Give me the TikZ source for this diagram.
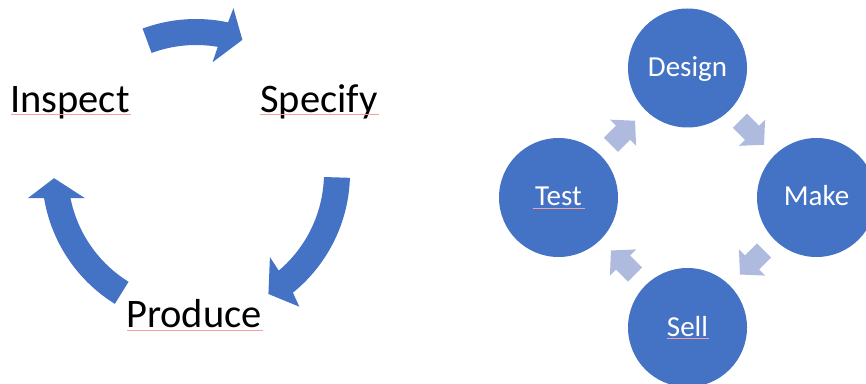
\documentclass[tikz,border=0pt]{standalone}
\usepackage{fontspec}
\setmainfont{Carlito}
\usetikzlibrary{calc}
\definecolor{mainblue}{RGB}{68,114,196}
\definecolor{lightarrow}{RGB}{174,187,223}
\definecolor{spellred}{RGB}{242,160,160}
\tikzset{
  bigtext/.style={anchor=base west,inner sep=0pt,font=\fontsize{40.5}{47}\selectfont,text=black},
  stage/.style={circle,fill=mainblue,minimum size=119pt,inner sep=0pt,text=white,
    font=\fontsize{29}{34}\selectfont,text height=20pt,text depth=3pt},
  cyclearrow/.style={fill=mainblue},
  linkarrow/.style={fill=lightarrow},
  spell/.style={draw=spellred,line width=0.6pt}
}
\newcommand{\linkarrowshape}[3]{%
  \begin{scope}[shift={($(#1)!0.5!(#2)$)},rotate=#3]
    \fill[linkarrow] (-17pt,-10pt) -- (0pt,-10pt) -- (0pt,-18.5pt) -- (17pt,0pt)
      -- (0pt,18.5pt) -- (0pt,10pt) -- (-17pt,10pt) -- cycle;
  \end{scope}}
\begin{document}
\begin{tikzpicture}[x=1pt,y=1pt]
\useasboundingbox (0,0) rectangle (866,383);
\clip (0,0) rectangle (866,383);
% ---------- left cycle ----------
\node[bigtext] (inspect) at (10,270) {Inspect};
\node[bigtext] (specify) at (260,270) {Specify};
\node[bigtext] (produce) at (126,55.5) {Produce};
\begin{scope}[shift={(196,210)}]
  % top arrow (Inspect -> Specify)
  \fill[cyclearrow] (110.3:154pt) arc[start angle=110.3,end angle=78,radius=154pt]
    -- (77.2:169pt) -- (70.8:141pt) -- (81.5:112pt) -- (80.2:128pt)
    arc[start angle=80.2,end angle=110.3,radius=128pt] -- cycle;
  % right arrow (Specify -> Produce)
  \fill[cyclearrow] (-1.8:154pt) arc[start angle=-1.8,end angle=-51,radius=154pt]
    -- (-52.3:169pt) -- (-59.1:141pt) -- (-48.7:112pt) -- (-49.7:128pt)
    arc[start angle=-49.7,end angle=-1.8,radius=128pt] -- cycle;
  % left arrow (Produce -> Inspect)
  \fill[cyclearrow] (238.2:154pt) arc[start angle=238.2,end angle=189.4,radius=154pt]
    -- (188.5:170pt) -- (182.1:142pt) -- (192.7:114pt) -- (191.3:128pt)
    arc[start angle=191.3,end angle=238.2,radius=128pt] -- cycle;
\end{scope}
\draw[spell] ($(inspect.base west)+(1,-1.5)$) -- ($(inspect.base east)+(1,-1.5)$);
\draw[spell] ($(specify.base west)+(0,-1.5)$) -- ($(specify.base east)+(1,-1.5)$);
\draw[spell] ($(produce.base west)+(1,-2.5)$) -- ($(produce.base east)+(1,-2.5)$);
% ---------- right cycle ----------
\node[stage] (design) at (687.5,315) {Design};
\node[stage] (make) at (816.5,185.5) {Make};
\node[stage] (sell) at (687.5,55.5) {Sell};
\node[stage] (test) at (558.5,185.5) {Test};
\linkarrowshape{design}{make}{-45}
\linkarrowshape{make}{sell}{-135}
\linkarrowshape{sell}{test}{135}
\linkarrowshape{test}{design}{45}
\draw[spell] ($(test.base)+(-26,-2)$) -- ($(test.base)+(26,-2)$);
\draw[spell] ($(sell.base)+(-21,-2)$) -- ($(sell.base)+(21,-2)$);
\end{tikzpicture}
\end{document}
